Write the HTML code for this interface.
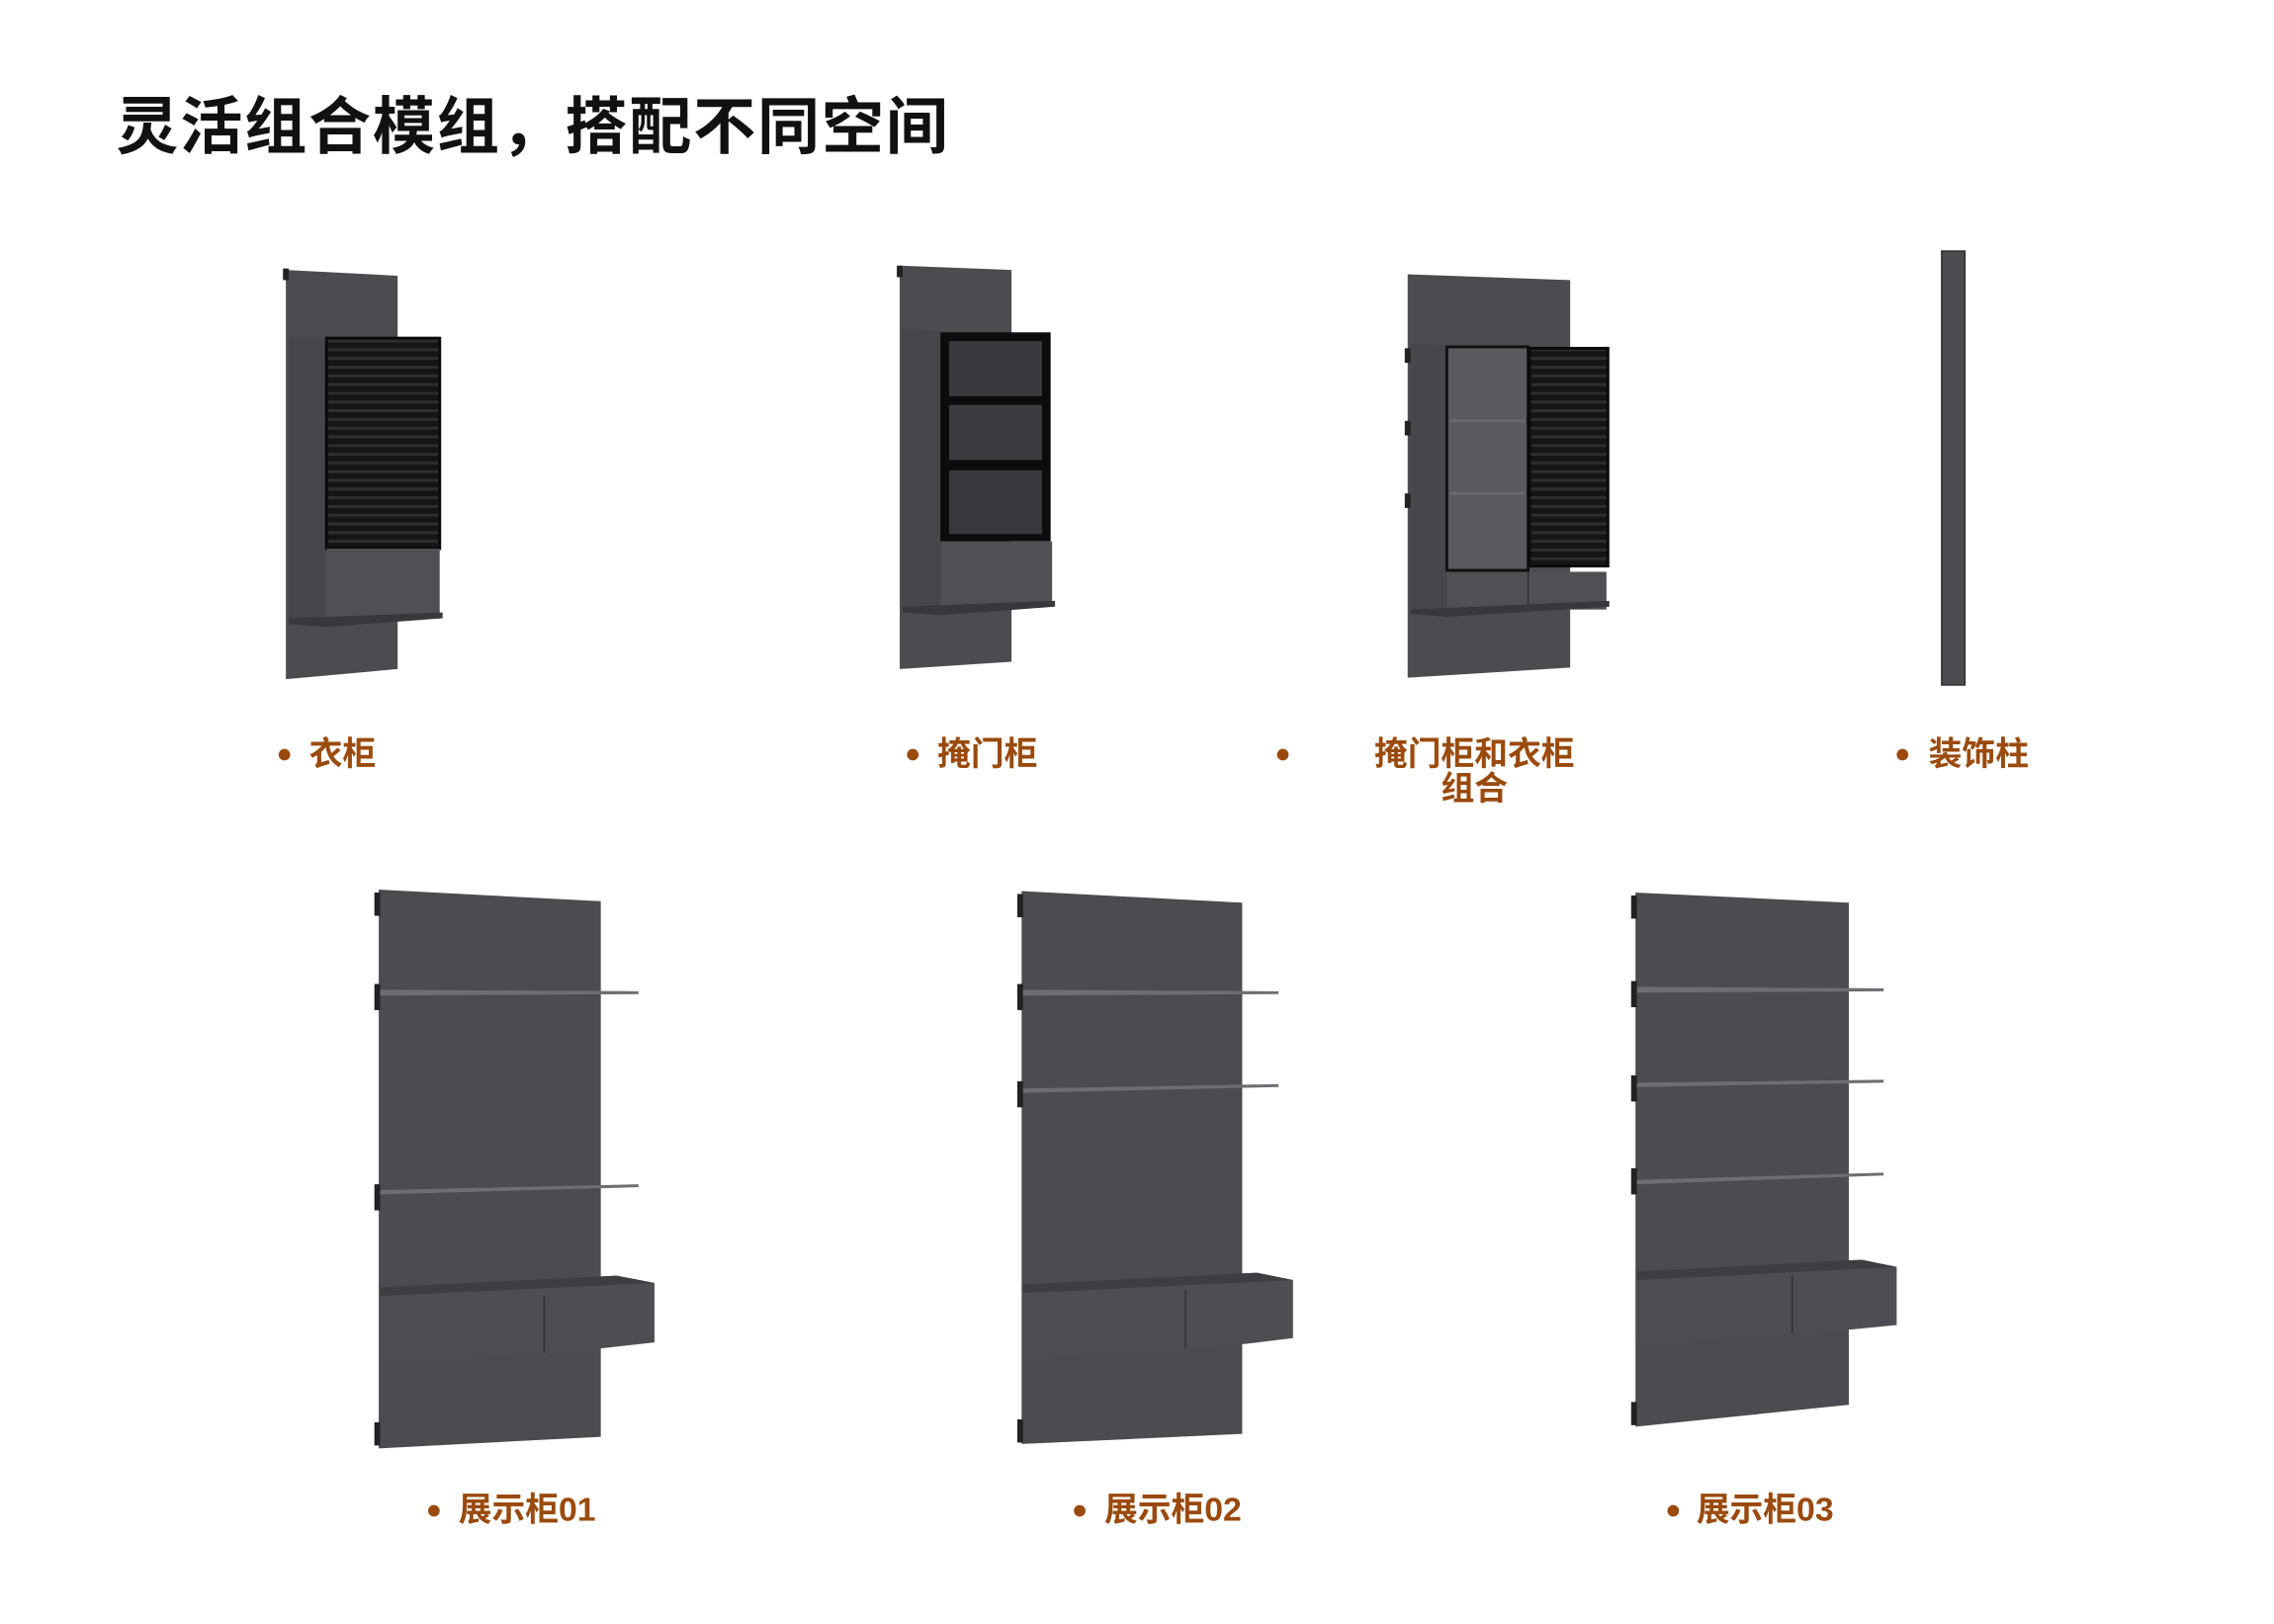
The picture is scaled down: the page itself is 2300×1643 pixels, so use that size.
<!DOCTYPE html>
<html><head><meta charset="utf-8"><style>
html,body{margin:0;padding:0;background:#fff;width:2300px;height:1643px;overflow:hidden}
svg{display:block}
text{font-family:"Liberation Sans","Noto Sans CJK SC",sans-serif}
.lb{fill:#9a4a0c;font-size:23px;font-weight:bold}
</style></head><body>
<svg width="2300" height="1643" viewBox="0 0 1567 1119" preserveAspectRatio="none" xmlns="http://www.w3.org/2000/svg">
<defs>
<pattern id="rib" width="4" height="6" patternUnits="userSpaceOnUse"><rect width="4" height="6" fill="#151515"/><rect width="4" height="2" fill="#2e2e30"/></pattern>
</defs>
<text x="80" y="102" font-size="43" font-weight="bold" fill="#111" letter-spacing="1.2">灵活组合模组，搭配不同空间</text>

<!-- Item1 -->
<polygon points="197,186 274,190 274,461 197,468" fill="#4b4b50"/>
<rect x="195" y="185" width="4" height="8" fill="#222"/>
<polygon points="199,232 225,233 225,430 199,428" fill="#46464b"/>
<rect x="225" y="233" width="78" height="145" fill="url(#rib)"/>
<rect x="225" y="233" width="78" height="145" fill="none" stroke="#0a0a0a" stroke-width="2"/>
<rect x="225" y="378" width="78" height="47" fill="#4f4f54"/>
<polygon points="199,426 305,422 305,426 225,432 199,430" fill="#38383c"/>

<!-- Item2 -->
<polygon points="620,183 697,186 697,456 620,461" fill="#4b4b50"/>
<rect x="618" y="183" width="4" height="8" fill="#222"/>
<polygon points="622,227 648,228 648,420 622,418" fill="#46464b"/>
<rect x="648" y="229" width="76" height="144" fill="#0c0c0c"/>
<rect x="654" y="235" width="64" height="38" fill="#3a3a3e"/>
<rect x="654" y="279" width="64" height="38" fill="#3c3c40"/>
<rect x="654" y="324" width="64" height="44" fill="#38383c"/>
<rect x="648" y="373" width="77" height="45" fill="#4f4f54"/>
<polygon points="622,418 727,414 727,418 648,424 622,422" fill="#38383c"/>

<!-- Item3 -->
<polygon points="970,189 1082,193 1082,460 970,467" fill="#4b4b50"/>
<rect x="968" y="240" width="4" height="10" fill="#222"/><rect x="968" y="290" width="4" height="10" fill="#222"/><rect x="968" y="340" width="4" height="10" fill="#222"/>
<polygon points="972,237 997,238 997,422 972,420" fill="#46464b"/>
<rect x="997" y="239" width="56" height="154" fill="#5a5a5e" stroke="#111" stroke-width="2"/>
<line x1="999" y1="290" x2="1051" y2="290" stroke="#6a6a6e" stroke-width="2"/>
<line x1="999" y1="340" x2="1051" y2="340" stroke="#6a6a6e" stroke-width="2"/>
<rect x="1054" y="240" width="54" height="150" fill="url(#rib)" stroke="#0a0a0a" stroke-width="2"/>
<rect x="997" y="394" width="110" height="26" fill="#4f4f54"/>
<line x1="1053" y1="394" x2="1053" y2="420" stroke="#333" stroke-width="1"/>
<polygon points="972,420 1109,414 1109,418 997,425 972,423" fill="#38383c"/>

<!-- Item4 -->
<rect x="1338" y="173" width="16" height="299" fill="#4b4b50"/>
<rect x="1338" y="173" width="16" height="299" fill="none" stroke="#2e2e32" stroke-width="1"/>

<!-- Item5 -->
<polygon points="261,613 414,621 414,990 261,998" fill="#4b4b50"/>
<rect x="258" y="615" width="4" height="16" fill="#222"/><rect x="258" y="678" width="4" height="18" fill="#222"/><rect x="258" y="816" width="4" height="18" fill="#222"/><rect x="258" y="980" width="4" height="16" fill="#222"/>
<polygon points="262,682 440,683 440,685 262,686" fill="#6e6e72"/>
<polygon points="262,820 440,816 440,818 262,823" fill="#6e6e72"/>
<polygon points="262,887 425,879 451,884 451,925 415,929 262,938" fill="#4d4d52"/>
<polygon points="262,887 425,879 451,884 262,893" fill="#3d3d42"/>
<line x1="375" y1="893" x2="375" y2="932" stroke="#333" stroke-width="1"/>

<!-- Item6 -->
<polygon points="704,614 856,622 856,988 704,995" fill="#4b4b50"/>
<rect x="701" y="616" width="4" height="16" fill="#222"/><rect x="701" y="678" width="4" height="18" fill="#222"/><rect x="701" y="745" width="4" height="18" fill="#222"/><rect x="701" y="978" width="4" height="16" fill="#222"/>
<polygon points="705,682 881,683 881,685 705,686" fill="#6e6e72"/>
<polygon points="705,750 881,747 881,749 705,753" fill="#6e6e72"/>
<polygon points="705,885 866,877 891,882 891,922 858,926 705,935" fill="#4d4d52"/>
<polygon points="705,885 866,877 891,882 705,891" fill="#3d3d42"/>
<line x1="817" y1="889" x2="817" y2="929" stroke="#333" stroke-width="1"/>

<!-- Item7 -->
<polygon points="1127,615 1274,622 1274,968 1127,983" fill="#4b4b50"/>
<rect x="1124" y="617" width="4" height="16" fill="#222"/><rect x="1124" y="676" width="4" height="18" fill="#222"/><rect x="1124" y="741" width="4" height="18" fill="#222"/><rect x="1124" y="805" width="4" height="18" fill="#222"/><rect x="1124" y="966" width="4" height="16" fill="#222"/>
<polygon points="1128,680 1298,681 1298,683 1128,684" fill="#6e6e72"/>
<polygon points="1128,746 1298,744 1298,746 1128,749" fill="#6e6e72"/>
<polygon points="1128,813 1298,808 1298,810 1128,816" fill="#6e6e72"/>
<polygon points="1128,876 1283,868 1307,873 1307,913 1276,916 1128,925" fill="#4d4d52"/>
<polygon points="1128,876 1283,868 1307,873 1128,882" fill="#3d3d42"/>
<line x1="1235" y1="879" x2="1235" y2="919" stroke="#333" stroke-width="1"/>

<!-- Labels -->
<g class="lb">
<circle cx="196" cy="520" r="4" fill="#9a4a0c"/><text x="213" y="527" class="lb">衣柜</text>
<circle cx="629" cy="520" r="4" fill="#9a4a0c"/><text x="646" y="527" class="lb">掩门柜</text>
<circle cx="884" cy="520" r="4" fill="#9a4a0c"/><text x="1016" y="527" text-anchor="middle" class="lb">掩门柜和衣柜</text><text x="1016" y="551" text-anchor="middle" class="lb">组合</text>
<circle cx="1311" cy="520" r="4" fill="#9a4a0c"/><text x="1329" y="527" class="lb">装饰柱</text>
<circle cx="299" cy="1041" r="4" fill="#9a4a0c"/><text x="316" y="1048" class="lb">展示柜01</text>
<circle cx="744" cy="1041" r="4" fill="#9a4a0c"/><text x="761" y="1048" class="lb">展示柜02</text>
<circle cx="1153" cy="1041" r="4" fill="#9a4a0c"/><text x="1169" y="1048" class="lb">展示柜03</text>
</g>
</svg>
</body></html>
